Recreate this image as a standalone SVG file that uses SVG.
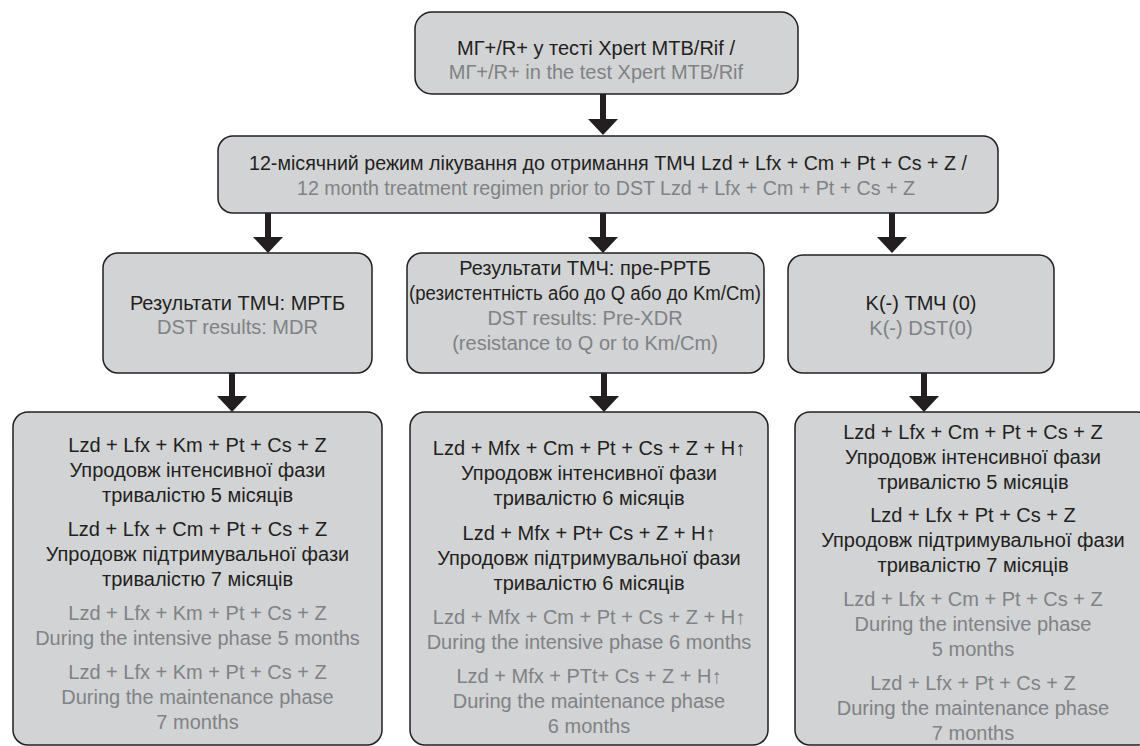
<svg xmlns="http://www.w3.org/2000/svg" width="1140" height="746" viewBox="0 0 1140 746">
<defs>
<marker id="ah" markerUnits="userSpaceOnUse" markerWidth="16" markerHeight="30" viewBox="0 0 16 30" refX="0" refY="15" orient="auto">
<path d="M0,0 L16,15 L0,30 z" fill="#231f20"/>
</marker>
<style>
.box{fill:#d1d3d4;stroke:#231f20;stroke-width:1.5}
text{font-family:"Liberation Sans",Arial,sans-serif;font-size:20px;text-anchor:middle}
.k{fill:#231f20}
.g{fill:#808285}
.conn line{stroke:#231f20;stroke-width:6;marker-end:url(#ah)}
</style>
</defs>
<rect width="1140" height="746" fill="#ffffff"/>
<g id="connectors" class="conn">
<line x1="603" y1="94" x2="603" y2="119"/>
<line x1="268" y1="213" x2="268" y2="237"/>
<line x1="603" y1="213" x2="603" y2="237"/>
<line x1="892" y1="213" x2="892" y2="237"/>
<line x1="232" y1="373" x2="232" y2="396"/>
<line x1="604" y1="373" x2="604" y2="396"/>
<line x1="924" y1="373" x2="924" y2="396"/>
</g>
<g id="n-top">
<rect class="box" x="415" y="12" width="383" height="82" rx="17"/>
<text class="k" x="596" y="55">МГ+/R+ у тесті Xpert MTB/Rif /</text>
<text class="g" x="596" y="79">МГ+/R+ in the test Xpert MTB/Rif</text>
</g>
<g id="n-regimen">
<rect class="box" x="218" y="136" width="780" height="77" rx="15"/>
<text class="k" x="608" y="170" textLength="718" lengthAdjust="spacingAndGlyphs">12-місячний режим лікування до отримання ТМЧ Lzd + Lfx + Cm + Pt + Cs + Z /</text>
<text class="g" x="606" y="195" textLength="618" lengthAdjust="spacingAndGlyphs">12 month treatment regimen prior to DST Lzd + Lfx + Cm + Pt + Cs + Z</text>
</g>
<g id="n-mdr">
<rect class="box" x="103" y="253" width="269" height="120" rx="15"/>
<text class="k" x="237.5" y="310">Результати ТМЧ: МРТБ</text>
<text class="g" x="237.5" y="334">DST results: MDR</text>
</g>
<g id="n-prexdr">
<rect class="box" x="407" y="253" width="357" height="120" rx="15"/>
<text class="k" x="585" y="275">Результати ТМЧ: пре-РРТБ</text>
<text class="k" x="585" y="300" textLength="352" lengthAdjust="spacingAndGlyphs">(резистентність або до Q або до Km/Cm)</text>
<text class="g" x="585" y="325">DST results: Pre-XDR</text>
<text class="g" x="585" y="350">(resistance to Q or to Km/Cm)</text>
</g>
<g id="n-neg">
<rect class="box" x="788" y="255" width="266" height="118" rx="15"/>
<text class="k" x="921" y="310">K(-) ТМЧ (0)</text>
<text class="g" x="921" y="335">K(-) DST(0)</text>
</g>
<g id="n-mdr-tx">
<rect class="box" x="13" y="412" width="369" height="333" rx="15"/>
<text class="k" x="197.5" y="452">Lzd + Lfx + Km + Pt + Cs + Z</text>
<text class="k" x="197.5" y="477">Упродовж інтенсивної фази</text>
<text class="k" x="197.5" y="502">тривалістю 5 місяців</text>
<text class="k" x="197.5" y="536">Lzd + Lfx + Cm + Pt + Cs + Z</text>
<text class="k" x="197.5" y="561">Упродовж підтримувальної фази</text>
<text class="k" x="197.5" y="586">тривалістю 7 місяців</text>
<text class="g" x="197.5" y="620">Lzd + Lfx + Km + Pt + Cs + Z</text>
<text class="g" x="197.5" y="645">During the intensive phase 5 months</text>
<text class="g" x="197.5" y="679">Lzd + Lfx + Km + Pt + Cs + Z</text>
<text class="g" x="197.5" y="704">During the maintenance phase</text>
<text class="g" x="197.5" y="729">7 months</text>
</g>
<g id="n-prexdr-tx">
<rect class="box" x="410" y="412" width="358" height="333" rx="15"/>
<text class="k" x="589" y="455">Lzd + Mfx + Cm + Pt + Cs + Z + H↑</text>
<text class="k" x="589" y="480">Упродовж інтенсивної фази</text>
<text class="k" x="589" y="505">тривалістю 6 місяців</text>
<text class="k" x="589" y="540">Lzd + Mfx + Pt+ Cs + Z + H↑</text>
<text class="k" x="589" y="565">Упродовж підтримувальної фази</text>
<text class="k" x="589" y="590">тривалістю 6 місяців</text>
<text class="g" x="589" y="624">Lzd + Mfx + Cm + Pt + Cs + Z + H↑</text>
<text class="g" x="589" y="649">During the intensive phase 6 months</text>
<text class="g" x="589" y="683">Lzd + Mfx + PTt+ Cs + Z + H↑</text>
<text class="g" x="589" y="708">During the maintenance phase</text>
<text class="g" x="589" y="733">6 months</text>
</g>
<g id="n-neg-tx">
<rect class="box" x="795" y="412" width="357" height="333" rx="15"/>
<text class="k" x="973" y="439">Lzd + Lfx + Cm + Pt + Cs + Z</text>
<text class="k" x="973" y="464">Упродовж інтенсивної фази</text>
<text class="k" x="973" y="489">тривалістю 5 місяців</text>
<text class="k" x="973" y="522">Lzd + Lfx + Pt + Cs + Z</text>
<text class="k" x="973" y="547">Упродовж підтримувальної фази</text>
<text class="k" x="973" y="572">тривалістю 7 місяців</text>
<text class="g" x="973" y="606">Lzd + Lfx + Cm + Pt + Cs + Z</text>
<text class="g" x="973" y="631">During the intensive phase</text>
<text class="g" x="973" y="656">5 months</text>
<text class="g" x="973" y="690">Lzd + Lfx + Pt + Cs + Z</text>
<text class="g" x="973" y="715">During the maintenance phase</text>
<text class="g" x="973" y="740">7 months</text>
</g>
</svg>
